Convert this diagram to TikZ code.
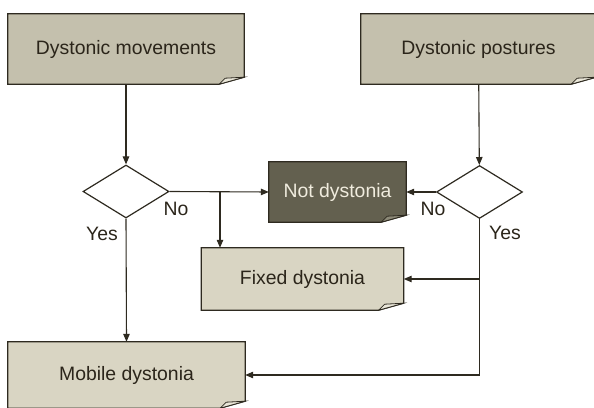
\documentclass[tikz,border=0pt]{standalone}
\usepackage{fontspec}
\setmainfont{Liberation Sans}
\usetikzlibrary{shapes.geometric}
\usetikzlibrary{arrows.meta}
\usetikzlibrary{positioning,calc}
\usetikzlibrary{backgrounds}

\definecolor{lineclr}{HTML}{2E2A20}
\definecolor{textclr}{HTML}{2B251A}
\definecolor{topfill}{HTML}{C4C0AD}
\definecolor{lowfill}{HTML}{D9D5C3}
\definecolor{darkfill}{HTML}{63604F}
\definecolor{flaplight}{HTML}{E9E6D8}
\definecolor{flapdark}{HTML}{8C8977}
\definecolor{lighttext}{HTML}{F0ECDE}

% outline of a note with a folded bottom right corner
\newcommand{\foldnote}[3]{%
   \draw[noteline, fill=#2] (#1.north west) -- (#1.north east)
      -- ([yshift=7pt]#1.south east) -- ([xshift=-25pt]#1.south east)
      -- (#1.south west) -- cycle;
   \draw[noteline, line width=0.8pt, fill=#3] ([xshift=-25pt]#1.south east)
      -- ([xshift=-19pt,yshift=6pt]#1.south east)
      -- ([yshift=7pt]#1.south east) -- cycle;
}

\begin{document}
\begin{tikzpicture}[
         x=1pt, y=1pt,
         every node/.style = {font=\fontsize{19.4}{23}\selectfont, text=textclr},
         note/.style = {rectangle, inner sep=0pt},
         noteline/.style = {draw=lineclr, line width=1.2pt, line join=miter},
         question/.style = {diamond, draw=lineclr, line width=1.2pt, fill=white,
         inner sep=0pt, minimum width=86pt, minimum height=53pt},
         flow/.style = {draw=lineclr, line width=1.1pt,
         -{Triangle[length=8pt,width=6.5pt]}}
]
      \useasboundingbox (0,0) rectangle (594,407);

      % starting points
      \node[note, minimum width=236pt, minimum height=70pt] (dmove)
         at (126,358) {Dystonic movements};
      \node[note, minimum width=235pt, minimum height=70pt] (dpost)
         at (478.5,358) {Dystonic postures};

      % decisions
      \node[question] (q1) at (126,215.5) {};
      \node[question] (q2) at (479.5,215) {};

      % outcomes
      \node[note, minimum width=137pt, minimum height=60pt, text=lighttext]
         (notd) at (337.5,215) {Not dystonia};
      \node[note, minimum width=202pt, minimum height=62pt] (fixd)
         at (302.5,128) {Fixed dystonia};
      \node[note, minimum width=237pt, minimum height=66pt] (mobd)
         at (126.5,32) {Mobile dystonia};

      \begin{scope}[on background layer]
         \foldnote{dmove}{topfill}{flaplight}
         \foldnote{dpost}{topfill}{flaplight}
         \foldnote{notd}{darkfill}{flapdark}
         \foldnote{fixd}{lowfill}{flaplight}
         \foldnote{mobd}{lowfill}{flaplight}
      \end{scope}

      % branch labels
      \node (no1)  at (176,198) {No};
      \node (yes1) at (102,173) {Yes};
      \node (no2)  at (433,198) {No};
      \node (yes2) at (505,174) {Yes};

      \coordinate (split) at (220,0 |- q1.east);
      \coordinate (fork)  at (q2.south |- fixd.east);

      \draw[flow] (dmove) -- (q1);
      \draw[flow] (dpost) -- (q2);
      \draw[flow] (q1.east) -- (notd.west);
      \draw[flow] (split) -- (split |- fixd.north);
      \draw[flow] (q1.south) -- (mobd.north);
      \draw[flow] (q2.west) -- (notd.east);
      \draw[flow] (fork) -- (fixd.east);
      \draw[flow] (q2.south) |- (mobd.east);

\end{tikzpicture}
\end{document}
